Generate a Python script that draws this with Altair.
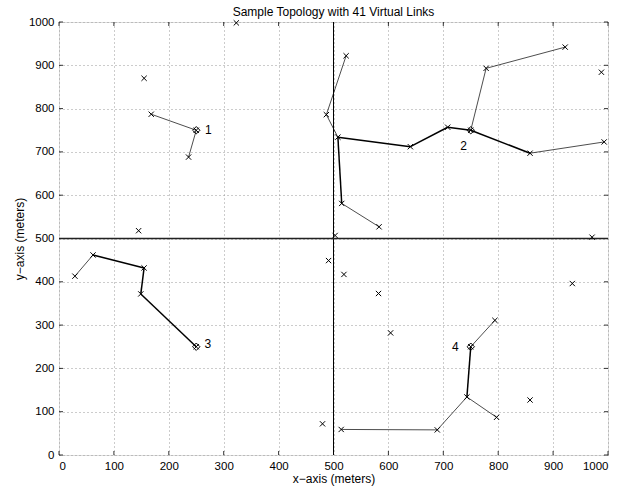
import altair as alt
import pandas as pd

TITLE = "Sample Topology with 41 Virtual Links"
X_TITLE = "x\u2212axis (meters)"
Y_TITLE = "y\u2212axis (meters)"

# node positions (meters)
node_x = [250, 168, 236, 155, 145, 323,
          750, 778, 922, 708, 640, 508, 487, 523, 515, 583, 858, 993, 988, 503, 971,
          250, 149, 155, 62, 29, 491, 480,
          750, 794, 743, 797, 689, 514, 858, 519, 582, 604, 935]
node_y = [750, 787, 688, 870, 518, 998,
          750, 893, 942, 757, 712, 734, 786, 922, 581, 527, 697, 723, 884, 507, 503,
          250, 372, 432, 462, 413, 449, 72,
          250, 311, 134, 87, 58, 59, 127, 417, 373, 282, 396]

# cluster heads (diamonds) and labels
head_idx = [0, 6, 21, 28]
head_label = ["1", "2", "3", "4"]
label_x = [272, 737, 271, 722]
label_y = [750, 713, 256, 249]

# virtual links: from, to, thick(1)/thin(0)
link_from = [0, 0, 6, 7, 6, 9, 10, 11, 12, 11, 14, 6, 16, 21, 22, 23, 24, 28, 28, 30, 30, 32]
link_to = [1, 2, 7, 8, 9, 10, 11, 12, 13, 14, 15, 16, 17, 22, 23, 24, 25, 29, 30, 31, 32, 33]
link_thick = [0, 0, 0, 0, 1, 1, 1, 0, 0, 1, 0, 1, 0, 1, 1, 1, 0, 0, 1, 0, 0, 0]

divider = [500]
tick_vals = list(range(0, 1001, 100))

W, H = 549, 433
FONT = "Liberation Sans"

nodes = pd.DataFrame({"x": node_x, "y": node_y})
heads = pd.DataFrame({"x": [node_x[i] for i in head_idx], "y": [node_y[i] for i in head_idx]})
labels = pd.DataFrame({"x": label_x, "y": label_y, "t": head_label})
links = pd.DataFrame({
    "x": [node_x[i] for i in link_from], "y": [node_y[i] for i in link_from],
    "x2": [node_x[i] for i in link_to], "y2": [node_y[i] for i in link_to],
    "w": ["thick" if t else "thin" for t in link_thick],
})
ticks = pd.DataFrame({"v": tick_vals})
div = pd.DataFrame({"v": divider})

xs = alt.Scale(domain=[0, 1000], nice=False, zero=False)
ys = alt.Scale(domain=[0, 1000], nice=False, zero=False)

common = dict(values=tick_vals, format="d", grid=True, gridDash=[1, 3], gridColor="#999",
              gridOpacity=1, gridWidth=1, ticks=False, domain=False, labelFontSize=11.5,
              labelColor="black", labelFont=FONT, titleFont=FONT, titleFontSize=12,
              titleFontWeight="normal", titleColor="black")
xax = alt.Axis(title=X_TITLE, labelPadding=5, titlePadding=2, **common)
yax = alt.Axis(title=Y_TITLE, labelPadding=5, titlePadding=2, **common)

base_grid = alt.Chart(ticks).mark_point(opacity=0).encode(
    x=alt.X("v:Q", scale=xs, axis=xax), y=alt.Y("v:Q", scale=ys, axis=yax))

tick_b = alt.Chart(ticks).mark_rule(color="black", strokeWidth=0.8).encode(
    x=alt.X("v:Q", scale=xs), y=alt.value(H), y2=alt.value(H - 4))
tick_t = alt.Chart(ticks).mark_rule(color="black", strokeWidth=0.8).encode(
    x=alt.X("v:Q", scale=xs), y=alt.value(0), y2=alt.value(4))
tick_l = alt.Chart(ticks).mark_rule(color="black", strokeWidth=0.8).encode(
    y=alt.Y("v:Q", scale=ys), x=alt.value(0), x2=alt.value(4))
tick_r = alt.Chart(ticks).mark_rule(color="black", strokeWidth=0.8).encode(
    y=alt.Y("v:Q", scale=ys), x=alt.value(W), x2=alt.value(W - 4))

vline = alt.Chart(div).mark_rule(color="black", strokeWidth=1).encode(x=alt.X("v:Q", scale=xs))
hline = alt.Chart(div).mark_rule(color="#222", strokeWidth=1.3).encode(y=alt.Y("v:Q", scale=ys))

link_layer = alt.Chart(links).mark_rule(color="black").encode(
    x=alt.X("x:Q", scale=xs), y=alt.Y("y:Q", scale=ys), x2="x2:Q", y2="y2:Q",
    strokeWidth=alt.StrokeWidth("w:N", scale=alt.Scale(domain=["thin", "thick"], range=[0.7, 1.5]),
                                legend=None))

xmark = alt.Chart(nodes).mark_point(
    shape="M-1,-1L1,1M-1,1L1,-1", size=28, stroke="black", strokeWidth=1, filled=False, opacity=1
).encode(x=alt.X("x:Q", scale=xs), y=alt.Y("y:Q", scale=ys))

dmark = alt.Chart(heads).mark_point(
    shape="diamond", size=55, stroke="black", strokeWidth=1, filled=False, opacity=1
).encode(x=alt.X("x:Q", scale=xs), y=alt.Y("y:Q", scale=ys))

text = alt.Chart(labels).mark_text(font=FONT, fontSize=12, fill="black", color="black").encode(
    x=alt.X("x:Q", scale=xs), y=alt.Y("y:Q", scale=ys), text="t:N")

chart = alt.layer(base_grid, tick_b, tick_t, tick_l, tick_r, vline, hline, link_layer,
                  xmark, dmark, text).properties(
    width=W, height=H,
    title=alt.TitleParams(TITLE, font=FONT, fontSize=12, fontWeight="normal", color="black",
                          offset=4, dy=7),
    autosize=alt.AutoSizeParams(type="none"),
    padding={"left": 59, "top": 22, "right": 33, "bottom": 36},
).configure_view(stroke="black", strokeWidth=1.2).configure(background="white")

chart.save("out.html", embed_options={"renderer": "svg", "actions": False})
